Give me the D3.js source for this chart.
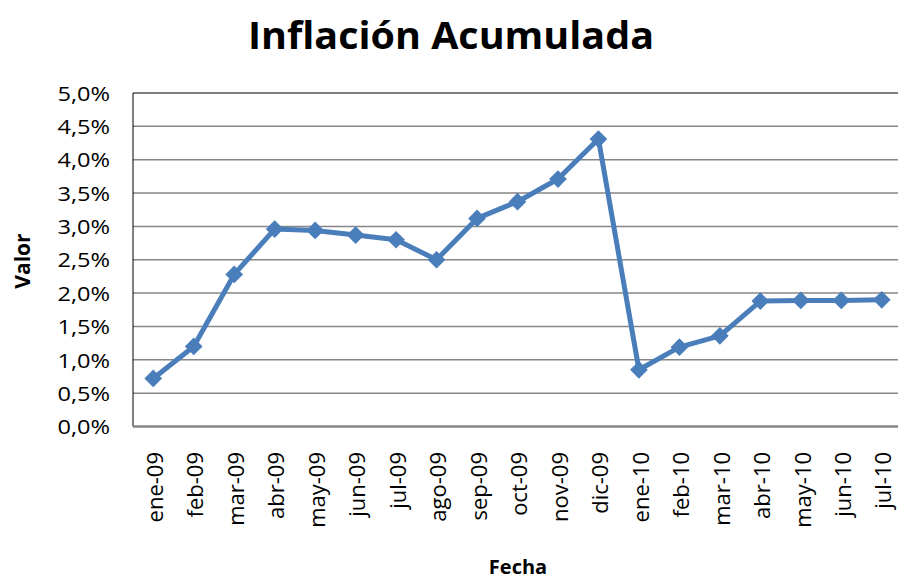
<!DOCTYPE html>
<html><head><meta charset="utf-8">
<script src="https://cdn.jsdelivr.net/npm/d3@7"></script>
<style>body{margin:0;background:#fff}</style>
</head><body>
<svg id="c" width="898" height="580"></svg>
<script>
const categories = ["ene-09","feb-09","mar-09","abr-09","may-09","jun-09","jul-09","ago-09","sep-09","oct-09","nov-09","dic-09","ene-10","feb-10","mar-10","abr-10","may-10","jun-10","jul-10"];
const values = [0.72,1.20,2.28,2.96,2.94,2.87,2.80,2.50,3.12,3.37,3.71,4.31,0.85,1.19,1.36,1.88,1.89,1.89,1.90];
const yTicks = [0,0.5,1,1.5,2,2.5,3,3.5,4,4.5,5];

(function(){
const svg = d3.select("#c");
const pL = 133, pR = 902, pT = 93, pB = 426.5;
const x = d3.scaleBand().domain(categories).range([pL, pR]);
const y = d3.scaleLinear().domain([0,5]).range([pB, pT]);
const fmt = v => v.toFixed(1).replace(".", ",") + "%";

// gridlines
svg.append("g").selectAll("line").data(yTicks.filter(t=>t>0 && t<5)).join("line")
  .attr("x1", pL).attr("x2", pR)
  .attr("y1", d=>y(d)).attr("y2", d=>y(d))
  .attr("stroke", "#868686").attr("stroke-width", 1.5);
// border
svg.append("line").attr("x1",pL).attr("x2",pR).attr("y1",pT).attr("y2",pT).attr("stroke","#000").attr("stroke-width",1);
svg.append("line").attr("x1",pL).attr("x2",pL).attr("y1",pT).attr("y2",pB).attr("stroke","#000").attr("stroke-width",1);
svg.append("line").attr("x1",pL).attr("x2",pR).attr("y1",pB).attr("y2",pB).attr("stroke","#868686").attr("stroke-width",2.5);

// y axis labels
const yAxis = d3.axisLeft(y).tickValues(yTicks).tickFormat(fmt).tickSize(0).tickPadding(0);
const gy = svg.append("g").attr("transform", `translate(110,0)`).call(yAxis);
gy.select(".domain").remove();
gy.selectAll("text").attr("font-family","Open Sans, sans-serif").attr("font-size",20).attr("fill","#000")
  .attr("dy","0.36em").attr("x",0).attr("transform","scale(1.18,1)");

// x axis labels
const xAxis = d3.axisBottom(x).tickSize(0).tickPadding(0);
const gx = svg.append("g").attr("transform", `translate(0,452)`).call(xAxis);
gx.select(".domain").remove();
gx.selectAll("text").attr("font-family","Open Sans, sans-serif").attr("font-size",22).attr("fill","#000")
  .attr("text-anchor","end").attr("transform","rotate(-90)").attr("x",0).attr("y",2).attr("dx",0).attr("dy","0.35em");

// line
const line = d3.line().x(d=>x(d[0])+x.bandwidth()/2).y(d=>y(d[1]));
const pts = categories.map((c,i)=>[c, values[i]]);
svg.append("path").datum(pts).attr("d", line).attr("fill","none").attr("stroke","#4a7ebb").attr("stroke-width",5).attr("stroke-linejoin","round");
svg.append("g").selectAll("path").data(pts).join("path")
  .attr("d", d3.symbol(d3.symbolDiamond2 || d3.symbolDiamond, 200))
  .attr("transform", d=>`translate(${x(d[0])+x.bandwidth()/2},${y(d[1])})`)
  .attr("fill","#4a7ebb");

// titles
svg.append("text").attr("x",451).attr("y",49).attr("text-anchor","middle")
  .attr("font-family","Open Sans, sans-serif").attr("font-weight","bold").attr("font-size",38)
  .attr("textLength",406).attr("lengthAdjust","spacingAndGlyphs").text("Inflación Acumulada");
svg.append("text").attr("transform","translate(30,261) rotate(-90)").attr("text-anchor","middle")
  .attr("font-family","Open Sans, sans-serif").attr("font-weight","bold").attr("font-size",21).text("Valor");
svg.append("text").attr("x",518).attr("y",574).attr("text-anchor","middle")
  .attr("font-family","Open Sans, sans-serif").attr("font-weight","bold").attr("font-size",20).text("Fecha");
})();
</script>
</body></html>
